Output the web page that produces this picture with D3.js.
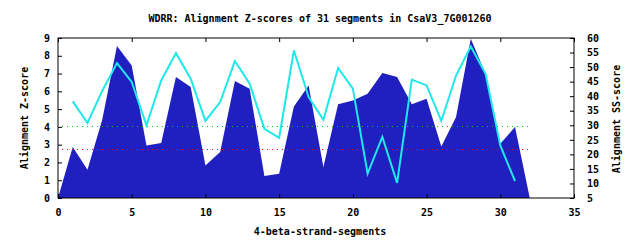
<!DOCTYPE html>
<html>
<head>
<meta charset="utf-8">
<script src="https://cdn.jsdelivr.net/npm/d3@7"></script>
<style>
  body { margin: 0; background: #fff; }
  svg text { font-family: "DejaVu Sans Mono", monospace; font-weight: bold; font-size: 10px; fill: #000; }
</style>
</head>
<body>
<script>
// data
var segIdx = [0, 1, 2, 3, 4, 5, 6, 7, 8, 9, 10, 11, 12, 13, 14, 15, 16,
              17, 18, 19, 20, 21, 22, 23, 24, 25, 26, 27, 28, 29, 30, 31, 32];
var zScores = [0, 2.87, 1.59, 4.4, 8.55, 7.45, 2.96, 3.1, 6.8, 6.24, 1.83, 2.59, 6.58, 6.15, 1.24, 1.37, 5.15,
               6.33, 1.74, 5.27, 5.49, 5.87, 7.03, 6.8, 5.27, 5.58, 2.9, 4.55, 8.96, 6.99, 3.05, 3.99, 0];
var ssIdx = [1, 2, 3, 4, 5, 6, 7, 8, 9, 10, 11, 12, 13, 14, 15, 16,
             17, 18, 19, 20, 21, 22, 23, 24, 25, 26, 27, 28, 29, 30, 31];
var ssScores = [38.2, 30.8, 41.8, 51.4, 44.9, 30.0, 45.4, 54.8, 46.0, 31.5, 38.0, 52.1, 44.3, 28.8, 25.7, 55.7,
                39.7, 31.9, 49.7, 42.6, 13.4, 26.0, 10.2, 45.7, 43.7, 31.5, 47.1, 57.1, 47.7, 23.1, 10.8];
var xTicks = [0, 5, 10, 15, 20, 25, 30, 35];
var zTicks = [0, 1, 2, 3, 4, 5, 6, 7, 8, 9];
var ssTicks = [5, 10, 15, 20, 25, 30, 35, 40, 45, 50, 55, 60];
var cutGreen = 4.05, cutRed = 2.76;

var W = 640, H = 240;
var L = 58, R = 574, T = 38, B = 198;

var svg = d3.select("body").append("svg").attr("width", W).attr("height", H);

var x = d3.scaleLinear().domain([0, 35]).range([L, R]);
var y = d3.scaleLinear().domain([0, 9]).range([B, T]);
var y2 = d3.scaleLinear().domain([5, 60]).range([B, T]);

var zData = segIdx.map(function (d, i) { return { x: d, v: zScores[i] }; });
var ssData = ssIdx.map(function (d, i) { return { x: d, v: ssScores[i] }; });

svg.append("path").datum(zData)
    .attr("fill", "#2020c0")
    .attr("d", d3.area().x(function (d) { return x(d.x); }).y0(B).y1(function (d) { return y(d.v); }));

// cut-off lines, snapped to whole pixels so the dots stay pure colour
function cutLine(v, col) {
    var yy = Math.round(y(v)) + 0.5;
    svg.append("line").attr("x1", Math.round(x(0.3))).attr("x2", Math.round(x(32))).attr("y1", yy).attr("y2", yy)
        .attr("stroke", col).attr("stroke-width", 1).attr("stroke-dasharray", "1,4");
}
cutLine(cutGreen, "#00c800");
cutLine(cutRed, "#ff0000");

svg.append("path").datum(ssData)
    .attr("fill", "none").attr("stroke", "#20e8e8").attr("stroke-width", 2)
    .attr("d", d3.line().x(function (d) { return x(d.x); }).y(function (d) { return y2(d.v); }));

// axes
function clean(g) { g.select(".domain").remove(); g.selectAll("line").attr("stroke", "#000"); g.selectAll("text").attr("font-size", null); }

svg.append("g").attr("transform", "translate(0," + B + ")")
    .call(d3.axisBottom(x).tickValues(xTicks).tickSize(-4).tickPadding(11).tickFormat(d3.format("d")))
    .call(clean);
svg.append("g").attr("transform", "translate(0," + T + ")")
    .call(d3.axisTop(x).tickValues(xTicks).tickSize(-4).tickFormat(""))
    .call(clean);
svg.append("g").attr("transform", "translate(" + L + ",0)")
    .call(d3.axisLeft(y).tickValues(zTicks).tickSize(-4).tickPadding(8).tickFormat(d3.format("d")))
    .call(clean);
svg.append("g").attr("transform", "translate(" + R + ",0)")
    .call(d3.axisRight(y2).tickValues(ssTicks).tickSize(-4).tickPadding(13).tickFormat(d3.format("d")))
    .call(clean);

svg.append("rect").attr("x", L).attr("y", T).attr("width", R - L).attr("height", B - T)
    .attr("fill", "none").attr("stroke", "#000").attr("stroke-width", 1);

svg.append("text").attr("x", 320).attr("y", 22).attr("text-anchor", "middle")
    .text("WDRR: Alignment Z-scores of 31 segments in CsaV3_7G001260");
svg.append("text").attr("x", 320).attr("y", 235).attr("text-anchor", "middle")
    .text("4-beta-strand-segments");
svg.append("text").attr("transform", "translate(28,118) rotate(-90)").attr("text-anchor", "middle")
    .text("Alignment Z-score");
svg.append("text").attr("transform", "translate(620,119) rotate(-90)").attr("text-anchor", "middle")
    .text("Alignment SS-score");
</script>
</body>
</html>
